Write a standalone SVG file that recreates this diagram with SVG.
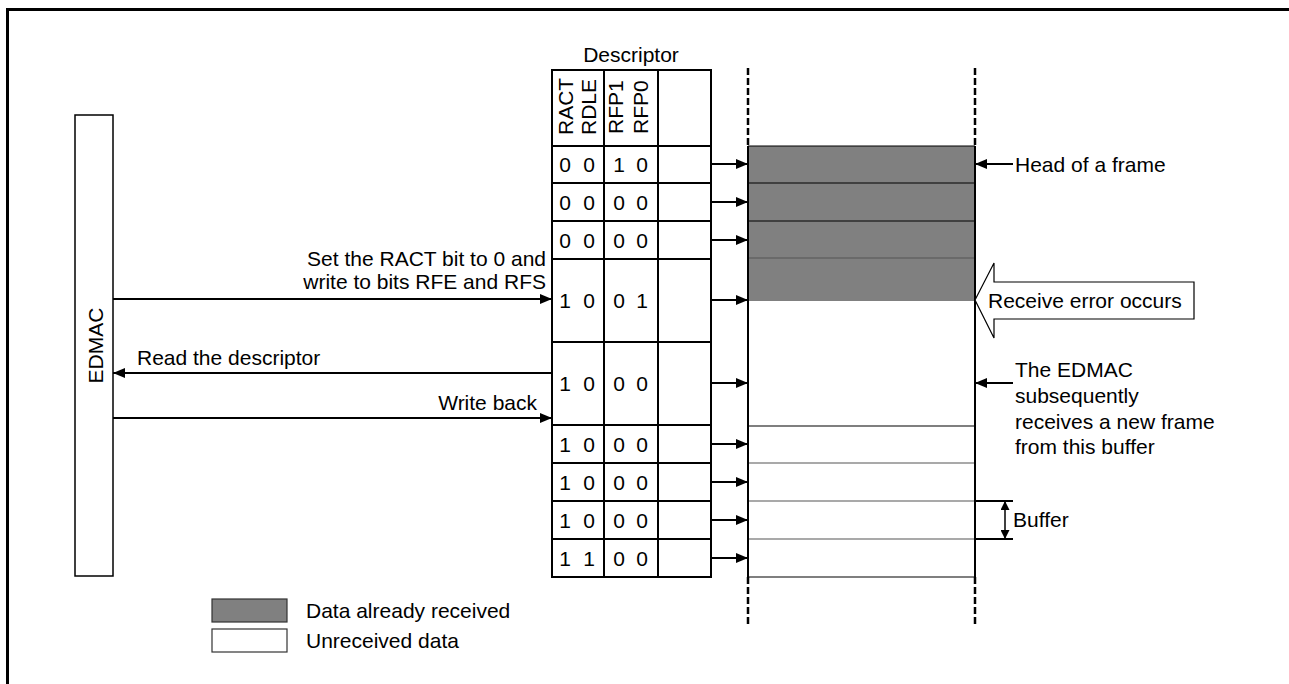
<svg xmlns="http://www.w3.org/2000/svg" width="1289" height="684" viewBox="0 0 1289 684">
<style>
text{font-family:"Liberation Sans",Arial,sans-serif;font-size:21px;fill:#000}
.tb{fill:none;stroke:#000;stroke-width:2}
.ln{stroke:#000;stroke-width:2;fill:none}
.thin{stroke:#000;stroke-width:1.2;fill:none}
.thg{stroke:#555;stroke-width:1.2;fill:none}
.dash{stroke:#000;stroke-width:2.5;stroke-dasharray:7 3;fill:none}
.ar{stroke:#000;stroke-width:2;fill:none;marker-end:url(#ah)}
.mid{text-anchor:middle}
.end{text-anchor:end}
</style>
<defs>
<marker id="ah" viewBox="0 0 12 10" refX="12" refY="5" markerWidth="12" markerHeight="10" markerUnits="userSpaceOnUse" orient="auto">
<path d="M0,0 L12,5 L0,10 z" fill="#000"/>
</marker>
<marker id="ahs" viewBox="0 0 10 10" refX="10" refY="5" markerWidth="9" markerHeight="9" markerUnits="userSpaceOnUse" orient="auto">
<path d="M0,0 L10,5 L0,10 z" fill="#000"/>
</marker>
</defs>
<rect width="1289" height="684" fill="#fff"/>
<path d="M7.5,684 V9.5 H1289" fill="none" stroke="#000" stroke-width="3"/>

<g id="edmac">
<rect x="75" y="115" width="38" height="461" fill="#fff" stroke="#000" stroke-width="1.5"/>
<text transform="translate(103,345.5) rotate(-90)" class="mid">EDMAC</text>
</g>

<g id="descriptor">
<text x="631" y="62" class="mid">Descriptor</text>
<rect x="552" y="70" width="159" height="507" class="tb"/>
<path class="tb" d="M604,70 V577 M658,70 V577 M552,146 H711 M552,183 H711 M552,221 H711 M552,259 H711 M552,342 H711 M552,425 H711 M552,463 H711 M552,501 H711 M552,539 H711"/>
<text transform="translate(573,135) rotate(-90)">RACT</text>
<text transform="translate(596,135) rotate(-90)">RDLE</text>
<text transform="translate(623,134) rotate(-90)">RFP1</text>
<text transform="translate(648,134) rotate(-90)">RFP0</text>
<g class="mid">
<text x="565" y="172">0</text><text x="589" y="172">0</text><text x="619" y="172">1</text><text x="642" y="172">0</text>
<text x="565" y="210">0</text><text x="589" y="210">0</text><text x="619" y="210">0</text><text x="642" y="210">0</text>
<text x="565" y="248">0</text><text x="589" y="248">0</text><text x="619" y="248">0</text><text x="642" y="248">0</text>
<text x="565" y="308">1</text><text x="589" y="308">0</text><text x="619" y="308">0</text><text x="642" y="308">1</text>
<text x="565" y="391">1</text><text x="589" y="391">0</text><text x="619" y="391">0</text><text x="642" y="391">0</text>
<text x="565" y="452">1</text><text x="589" y="452">0</text><text x="619" y="452">0</text><text x="642" y="452">0</text>
<text x="565" y="490">1</text><text x="589" y="490">0</text><text x="619" y="490">0</text><text x="642" y="490">0</text>
<text x="565" y="528">1</text><text x="589" y="528">0</text><text x="619" y="528">0</text><text x="642" y="528">0</text>
<text x="565" y="566">1</text><text x="589" y="566">1</text><text x="619" y="566">0</text><text x="642" y="566">0</text>
</g>
</g>

<g id="buffers">
<rect x="748" y="146" width="227" height="155" fill="#808080"/>
<path class="thin" d="M748,146 H975 M748,183 H975 M748,221 H975 M748,426 H975 M748,577 H975"/>
<path class="thg" d="M748,258 H975 M748,463 H975 M748,501 H975 M748,539 H975"/>
<path class="ln" d="M748,146 V577 M975,146 V577"/>
<path class="dash" d="M748,68 V146 M975,68 V146 M748,577 V626 M975,577 V626"/>
</g>

<g id="error-arrow">
<polygon points="975,300 994,263 994,282 1194,282 1194,319 994,319 994,338" fill="#fff" stroke="#000" stroke-width="1.2"/>
<text x="988" y="308">Receive error occurs</text>
</g>

<g id="labels">
<text x="1015" y="172">Head of a frame</text>
<text x="1015" y="377">The EDMAC</text>
<text x="1015" y="403">subsequently</text>
<text x="1015" y="429">receives a new frame</text>
<text x="1015" y="454">from this buffer</text>
<path class="ln" d="M975,501 H1013 M975,539 H1013"/>
<text x="1013" y="527">Buffer</text>
<text x="546" y="266" class="end">Set the RACT bit to 0 and</text>
<text x="546" y="289" class="end">write to bits RFE and RFS</text>
<text x="137" y="365">Read the descriptor</text>
<text x="537" y="410" class="end">Write back</text>
</g>

<g id="connectors">
<line x1="113" y1="299" x2="552" y2="299" class="ar"/>
<line x1="552" y1="373" x2="113" y2="373" class="ar"/>
<line x1="113" y1="418" x2="552" y2="418" class="ar"/>
<line x1="711" y1="164" x2="748" y2="164" class="ar"/>
<line x1="711" y1="202" x2="748" y2="202" class="ar"/>
<line x1="711" y1="240" x2="748" y2="240" class="ar"/>
<line x1="711" y1="300" x2="748" y2="300" class="ar"/>
<line x1="711" y1="383" x2="748" y2="383" class="ar"/>
<line x1="711" y1="444" x2="748" y2="444" class="ar"/>
<line x1="711" y1="482" x2="748" y2="482" class="ar"/>
<line x1="711" y1="520" x2="748" y2="520" class="ar"/>
<line x1="711" y1="558" x2="748" y2="558" class="ar"/>
<line x1="1013" y1="164" x2="975" y2="164" class="ar"/>
<line x1="1013" y1="383" x2="975" y2="383" class="ar"/>
<line x1="1005" y1="520" x2="1005" y2="501" stroke="#000" stroke-width="1.5" marker-end="url(#ahs)"/>
<line x1="1005" y1="520" x2="1005" y2="539" stroke="#000" stroke-width="1.5" marker-end="url(#ahs)"/>
</g>

<g id="legend">
<rect x="212" y="599" width="75" height="23" fill="#808080" stroke="#333" stroke-width="1.2"/>
<rect x="212" y="629" width="75" height="23" fill="#fff" stroke="#333" stroke-width="1.2"/>
<text x="306" y="618">Data already received</text>
<text x="306" y="648">Unreceived data</text>
</g>
</svg>
